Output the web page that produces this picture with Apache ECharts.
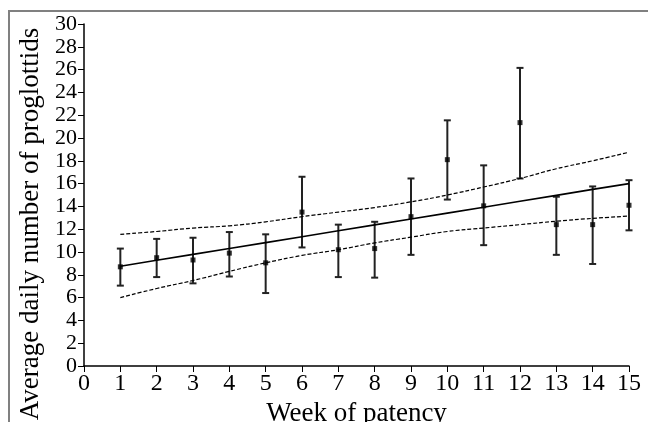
<!DOCTYPE html>
<html>
<head>
<meta charset="utf-8">
<script src="https://cdn.jsdelivr.net/npm/echarts@6/dist/echarts.min.js"></script>
<style>
  html, body { margin: 0; padding: 0; background: #fff; }
  #chart { width: 648px; height: 422px; }
</style>
</head>
<body>
<div id="chart"></div>
<script>
// week of patency
var weeks = [1, 2, 3, 4, 5, 6, 7, 8, 9, 10, 11, 12, 13, 14, 15];
// average daily number of proglottids, with error bar ends
var meanVals = [8.7, 9.5, 9.3, 9.9, 9.05, 13.5, 10.2, 10.3, 13.1, 18.1, 14.05, 21.35, 12.4, 12.4, 14.1];
var barHigh = [10.3, 11.15, 11.25, 11.75, 11.55, 16.6, 12.4, 12.65, 16.45, 21.55, 17.6, 26.15, 14.85, 15.75, 16.3];
var barLow = [7.05, 7.8, 7.25, 7.85, 6.4, 10.4, 7.8, 7.75, 9.75, 14.6, 10.6, 16.45, 9.75, 8.95, 11.9];
// regression line and its confidence band
var fitVals = [8.75, 9.27, 9.79, 10.3, 10.82, 11.34, 11.86, 12.38, 12.9, 13.41, 13.93, 14.45, 14.97, 15.49, 16.0];
var bandHigh = [11.55, 11.8, 12.1, 12.3, 12.65, 13.1, 13.5, 13.9, 14.4, 15.0, 15.7, 16.45, 17.3, 18.0, 18.75];
var bandLow = [6.0, 6.8, 7.5, 8.3, 9.05, 9.7, 10.2, 10.8, 11.3, 11.8, 12.1, 12.4, 12.7, 12.95, 13.15];

var serif = '"Liberation Serif", "DejaVu Serif", serif';

function pairs(vals) {
  return weeks.map(function (w, i) { return [w, vals[i]]; });
}

var barData = weeks.map(function (w, i) { return [w, barLow[i], barHigh[i]]; });

var chart = echarts.init(document.getElementById('chart'));
var option = {
  backgroundColor: '#fff',
  animation: false,
  grid: { left: 84, right: 19, top: 24, bottom: 56, outerBoundsMode: 'none', containLabel: false },
  graphic: [
    { type: 'line', shape: { x1: 9, y1: 11, x2: 648, y2: 11 }, style: { stroke: '#808080', lineWidth: 2 } },
    { type: 'line', shape: { x1: 9, y1: 10, x2: 9, y2: 422 }, style: { stroke: '#808080', lineWidth: 2 } }
  ],
  xAxis: {
    type: 'value',
    min: 0, max: 15, interval: 1,
    name: 'Week of patency',
    nameLocation: 'middle',
    nameGap: 17,
    nameTextStyle: { fontFamily: serif, fontSize: 27, lineHeight: 14, color: '#000' },
    axisLine: { show: true, onZero: false, lineStyle: { color: '#000', width: 1.5 } },
    axisTick: { show: true, inside: false, length: 6, lineStyle: { color: '#000', width: 1 } },
    axisLabel: { fontFamily: serif, fontSize: 24, color: '#000', margin: 6, showMinLabel: true, showMaxLabel: true, hideOverlap: false },
    splitLine: { show: false }
  },
  yAxis: {
    type: 'value',
    min: 0, max: 30, interval: 2,
    name: 'Average daily number of proglottids',
    nameLocation: 'middle',
    nameGap: 39,
    nameTextStyle: { fontFamily: serif, fontSize: 27, color: '#000', padding: [0, 58, 0, 0] },
    axisLine: { show: true, lineStyle: { color: '#000', width: 1.5 } },
    axisTick: { show: true, inside: false, length: 6, lineStyle: { color: '#000', width: 1 } },
    axisLabel: { fontFamily: serif, fontSize: 22, color: '#000', margin: 7, showMinLabel: true, showMaxLabel: true, hideOverlap: false },
    splitLine: { show: false }
  },
  series: [
    {
      type: 'line', data: pairs(bandHigh), symbol: 'none', smooth: true,
      lineStyle: { color: '#000', width: 1.2, type: [4, 2] }
    },
    {
      type: 'line', data: pairs(bandLow), symbol: 'none', smooth: true,
      lineStyle: { color: '#000', width: 1.2, type: [4, 2] }
    },
    {
      type: 'line', data: pairs(fitVals), symbol: 'none',
      lineStyle: { color: '#000', width: 1.6 }
    },
    {
      type: 'custom',
      data: barData,
      renderItem: function (params, api) {
        var x = api.value(0);
        var lo = api.coord([x, api.value(1)]);
        var hi = api.coord([x, api.value(2)]);
        var cap = 3.5;
        var st = { stroke: '#222', lineWidth: 2 };
        return {
          type: 'group',
          children: [
            { type: 'line', shape: { x1: lo[0], y1: lo[1], x2: hi[0], y2: hi[1] }, style: st },
            { type: 'line', shape: { x1: hi[0] - cap, y1: hi[1], x2: hi[0] + cap, y2: hi[1] }, style: st },
            { type: 'line', shape: { x1: lo[0] - cap, y1: lo[1], x2: lo[0] + cap, y2: lo[1] }, style: st }
          ]
        };
      },
      z: 3
    },
    {
      type: 'scatter', data: pairs(meanVals), symbol: 'rect', symbolSize: 5,
      itemStyle: { color: '#000' }, z: 4
    }
  ]
};
chart.setOption(option);
</script>
</body>
</html>
